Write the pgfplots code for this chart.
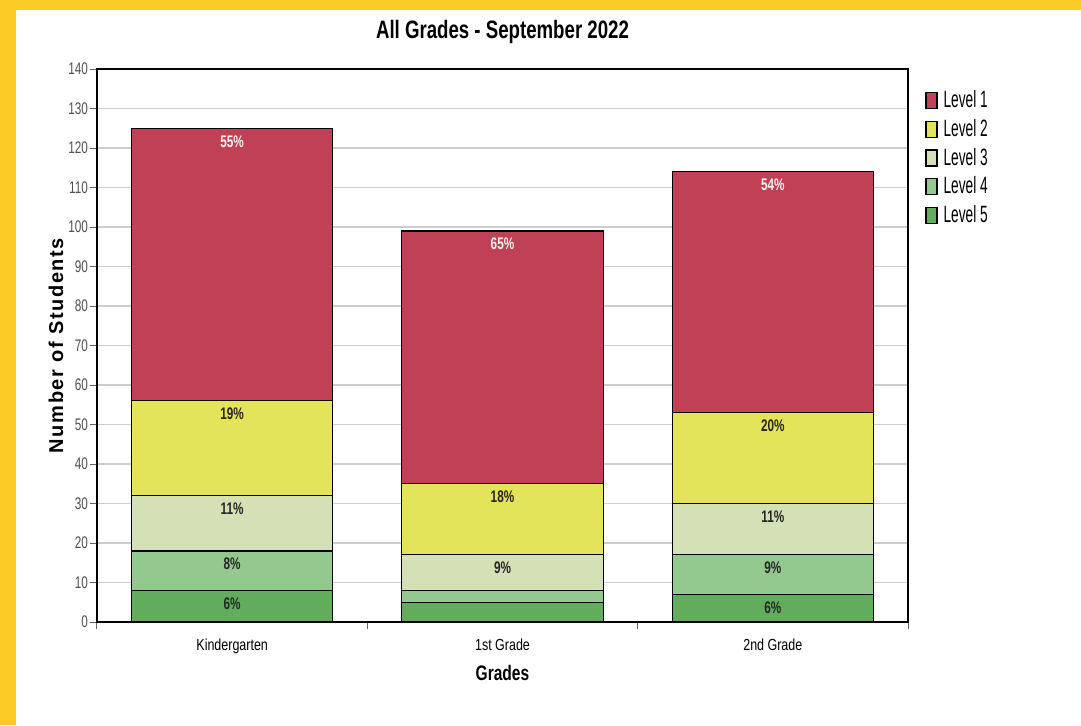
\documentclass[border=0pt]{standalone}
\usepackage{pgfplots}
\pgfplotsset{compat=1.18}
\usepackage{fontspec}
\setmainfont{Liberation Sans}
\newfontfamily\tickfont{Liberation Sans}[FakeStretch=0.70]
\newfontfamily\catfont{Liberation Sans}[FakeStretch=0.78]
\newfontfamily\titlefont{Liberation Sans}[FakeStretch=0.74]
\newfontfamily\legfont{Liberation Sans}[FakeStretch=0.58]
\newfontfamily\ylabfont{Liberation Sans}[LetterSpace=8]
\definecolor{lvA}{RGB}{192,65,86}
\definecolor{lvB}{RGB}{227,228,89}
\definecolor{lvC}{RGB}{212,224,182}
\definecolor{lvD}{RGB}{147,200,143}
\definecolor{lvE}{RGB}{97,173,92}
\definecolor{bordery}{RGB}{250,204,37}
\definecolor{gridgray}{RGB}{204,204,204}
\definecolor{axisgray}{RGB}{100,100,100}
\definecolor{ticktext}{RGB}{80,80,80}
\begin{document}
\begin{tikzpicture}
\useasboundingbox (-48.5pt,-51.5pt) rectangle (492pt,311pt);
\fill[white] (-48.5pt,-51.5pt) rectangle (492pt,311pt);
\fill[bordery] (-48.5pt,-51.5pt) rectangle (-40.5pt,311pt);
\fill[bordery] (-48.5pt,306pt) rectangle (492pt,311pt);
\begin{axis}[
  at={(0,0)}, anchor=south west,
  width=405.5pt, height=276.5pt, scale only axis,
  ybar stacked, bar width=0.745,
  xmin=-0.5, xmax=2.5, ymin=0, ymax=140,
  ytick={0,10,...,140},
  ymajorgrids, grid style={draw=gridgray, line width=0.6pt},
  xtick={-0.5,0.5,1.5,2.5}, xticklabels={},
  extra x ticks={0,1,2},
  extra x tick labels={Kindergarten,1st Grade,2nd Grade},
  extra x tick style={major tick length=0pt, grid=none,
     xticklabel style={anchor=base, yshift=-14pt}},
  tick align=outside, major tick length=3.5pt,
  tick style={draw=axisgray, line width=0.5pt},
  xtick pos=bottom, ytick pos=left,
  axis line style={draw=black, line width=0.7pt},
  /pgf/number format/assume math mode=true,
  yticklabel style={font=\tickfont\fontsize{8.4}{10}\selectfont, text=ticktext, xshift=2.5pt},
  xticklabel style={font=\catfont\fontsize{8}{10}\selectfont, text=black},
  title={All Grades - September 2022},
  title style={font=\titlefont\bfseries\fontsize{12.6}{14}\selectfont,
     at={(axis description cs:0.5,1.0343)}, anchor=base},
  xlabel={Grades},
  xlabel style={font=\titlefont\bfseries\fontsize{10.5}{12}\selectfont,
     at={(axis description cs:0.5,-0.1049)}, anchor=base},
  ylabel={Number of Students},
  ylabel style={font=\ylabfont\bfseries\fontsize{10}{11}\selectfont,
     at={(axis description cs:-0.0419,0.5)}, anchor=base},
  point meta=explicit symbolic,
  nodes near coords,
  visualization depends on={rawy \as \segh},
  every node near coord/.append style={anchor=base, yshift={\segh*0.9875pt-9.5pt},
     font=\tickfont\bfseries\fontsize{8.4}{10}\selectfont, text=black!85},
  reverse legend,
  legend style={at={(axis description cs:1,1)}, anchor=north west,
     xshift=8.5pt, yshift=-9pt, draw=none, fill=none,
     font=\legfont\fontsize{11.8}{13}\selectfont,
     row sep=1.35pt, column sep=1.5pt, inner sep=0pt,
     nodes={inner sep=1.5pt}},
  legend cell align=left,
  legend image code/.code={\draw[#1,draw=black,line width=0.6pt] (0pt,-4pt) rectangle (5.5pt,4pt);},
]
\addplot[fill=lvE, draw=black, line width=0.6pt] coordinates {(0,8) [6\%] (1,5) [] (2,7) [6\%]};
\addplot[fill=lvD, draw=black, line width=0.6pt] coordinates {(0,10) [8\%] (1,3) [] (2,10) [9\%]};
\addplot[fill=lvC, draw=black, line width=0.6pt] coordinates {(0,14) [11\%] (1,9) [9\%] (2,13) [11\%]};
\addplot[fill=lvB, draw=black, line width=0.6pt] coordinates {(0,24) [19\%] (1,18) [18\%] (2,23) [20\%]};
\addplot[fill=lvA, draw=black, line width=0.6pt, every node near coord/.append style={text=white!95!black}] coordinates {(0,69) [55\%] (1,64) [65\%] (2,61) [54\%]};
\legend{Level 5,Level 4,Level 3,Level 2,Level 1}
\end{axis}
\end{tikzpicture}
\end{document}
